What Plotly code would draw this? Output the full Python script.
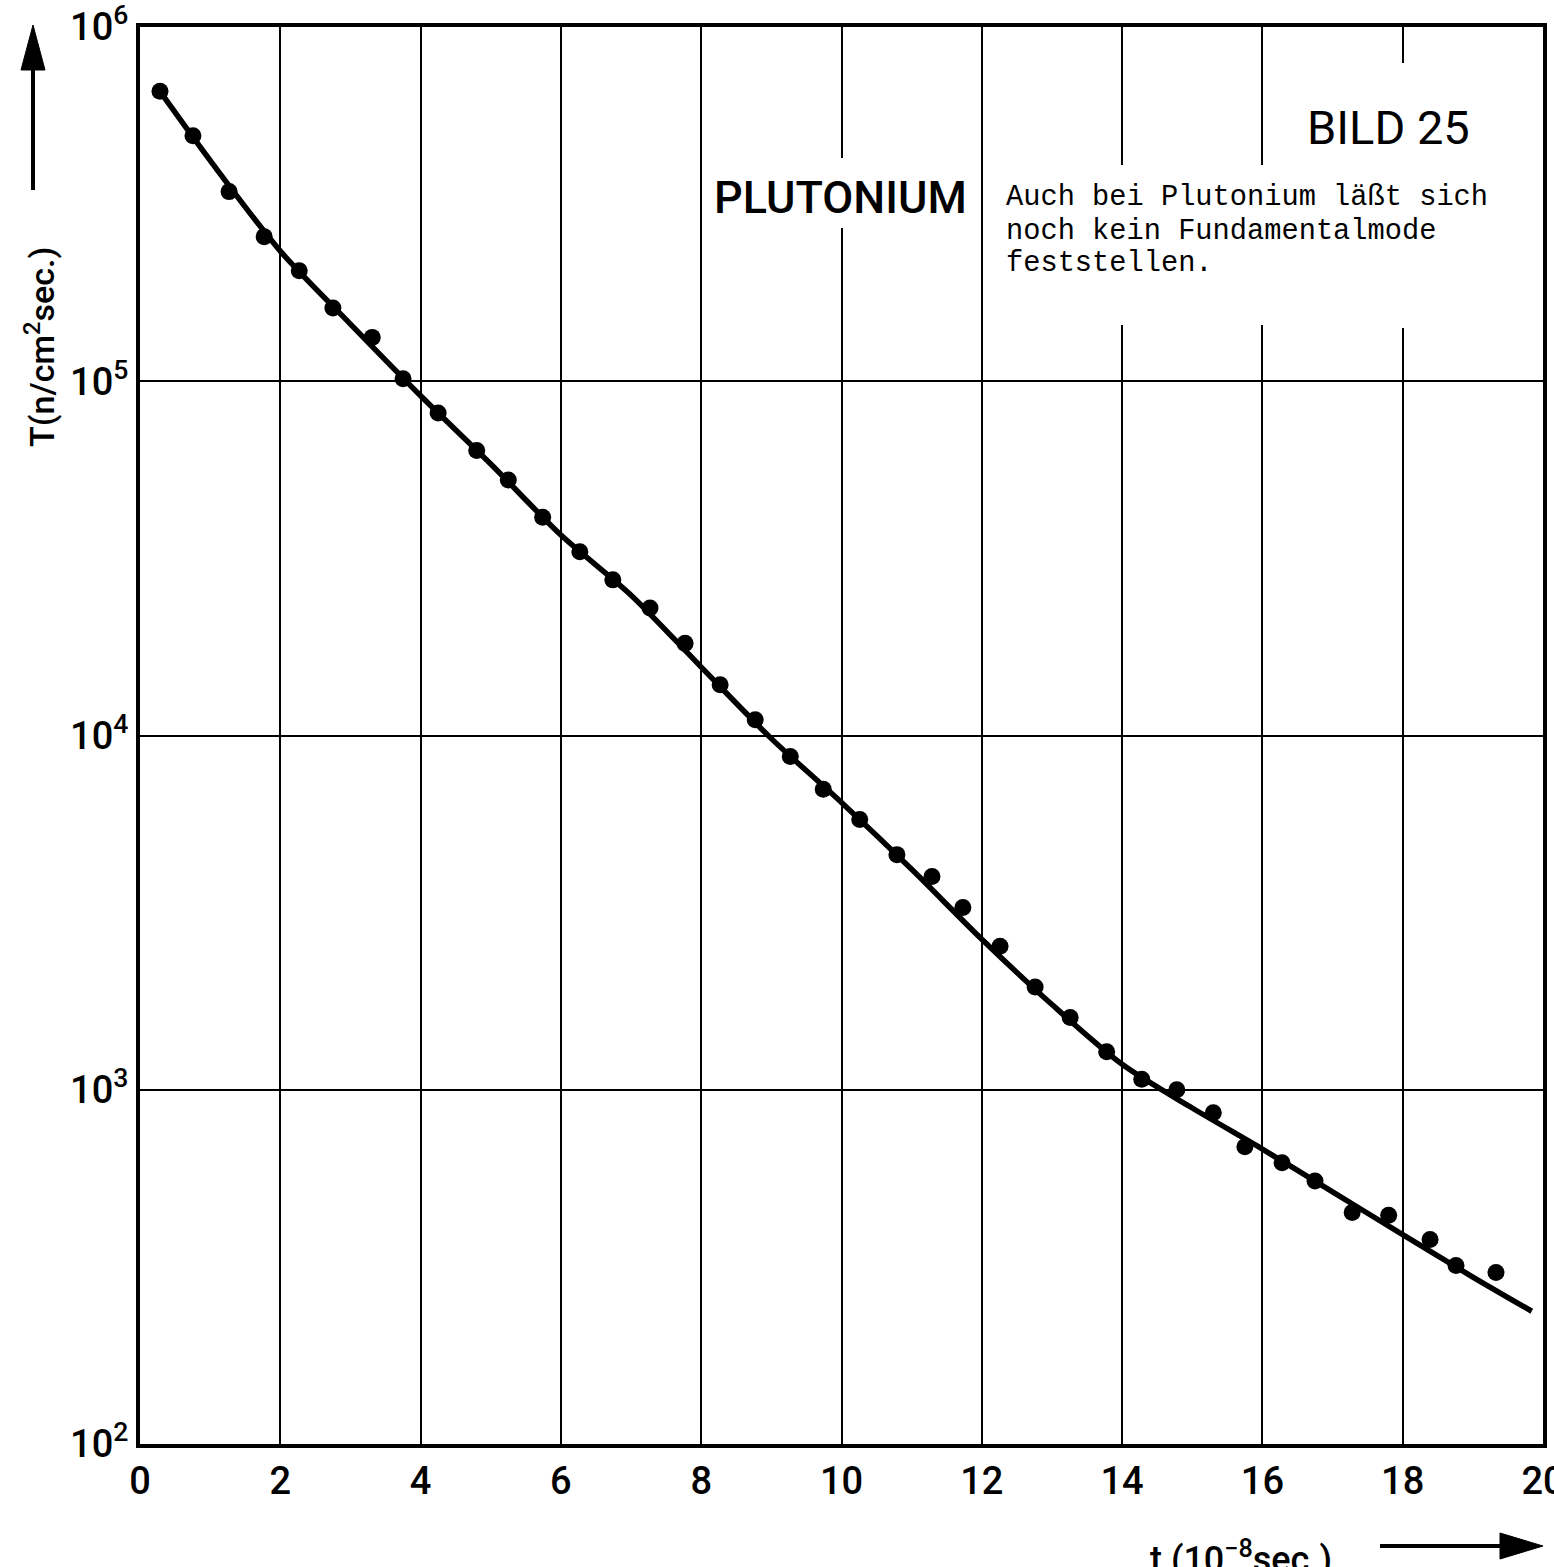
import plotly.graph_objects as go

# ---------------- data ----------------
t_points = [0.285, 0.755, 1.27, 1.77, 2.27, 2.75, 3.31, 3.75, 4.25, 4.80,
            5.25, 5.74, 6.27, 6.74, 7.27, 7.77, 8.27, 8.77, 9.27, 9.74,
            10.26, 10.79, 11.29, 11.73, 12.26, 12.76, 13.26, 13.78, 14.28, 14.78,
            15.30, 15.75, 16.28, 16.75, 17.28, 17.80, 18.39, 18.76, 19.33]
T_points = [659000, 493000, 343000, 256000, 205000, 161000, 133000, 101600, 81300, 63800,
            52600, 41300, 33000, 27500, 22900, 18200, 13900, 11070, 8730, 7050,
            5790, 4610, 4000, 3270, 2540, 1950, 1600, 1280, 1070, 1000,
            861, 690, 622, 553, 450, 442, 378, 319, 305]

t_curve = [0.28, 1, 2, 3, 4, 5, 6, 7, 8, 9, 10,
           11, 12, 13, 14, 15, 16, 17, 18, 19, 19.84]
T_curve = [660000, 420000, 233000, 145000, 91000, 58400, 36800, 24900, 15600, 9800, 6470,
           4190, 2660, 1740, 1180, 888, 680, 515, 390, 296, 237]

x_tick_vals = [0, 2, 4, 6, 8, 10, 12, 14, 16, 18, 20]
x_tick_text = ["0", "2", "4", "6", "8", "10", "12", "14", "16", "18", "20"]
y_tick_vals = [1e2, 1e3, 1e4, 1e5, 1e6]
y_tick_text = ["10<sup>2</sup>", "10<sup>3</sup>", "10<sup>4</sup>", "10<sup>5</sup>", "10<sup>6</sup>"]

title_main = "PLUTONIUM"
title_fig = "BILD 25"
note_lines = ["Auch bei Plutonium läßt sich", "noch kein Fundamentalmode", "feststellen."]
y_title = "T(n/cm<sup>2</sup>sec.)"
x_title = "t (10<sup>−8</sup>sec.)"

# ---------------- layout helpers ----------------
W, H = 1554, 1567
L, R, T, B = 140, 1543, 27, 1444
SANS = "Roboto, Arial, sans-serif"
MONO = "Liberation Mono, Courier New, monospace"


def px(x):
    return (x - L) / (R - L)


def py(y):
    return (B - y) / (B - T)


fig = go.Figure()
fig.add_trace(go.Scatter(x=t_curve, y=T_curve, mode="lines",
                         line=dict(color="black", width=5.5, shape="spline", smoothing=0.8),
                         hoverinfo="skip"))
fig.add_trace(go.Scatter(x=t_points, y=T_points, mode="markers",
                         marker=dict(color="black", size=17)))

fig.update_layout(
    width=W, height=H,
    margin=dict(l=L, r=W - R, t=T, b=H - B, pad=0),
    paper_bgcolor="white", plot_bgcolor="white",
    showlegend=False,
    xaxis=dict(range=[0, 20], tickmode="array", tickvals=x_tick_vals, ticktext=x_tick_text,
               showgrid=True, gridcolor="black", gridwidth=2,
               showline=True, linecolor="black", linewidth=4, mirror=True,
               ticks="", zeroline=False, ticklabelstandoff=0, ticklabeloverflow="allow",
               automargin=False,
               tickfont=dict(family=SANS, size=38, color="black", weight=500)),
    yaxis=dict(type="log", range=[2, 6], tickmode="array", tickvals=y_tick_vals, ticktext=y_tick_text,
               showgrid=True, gridcolor="black", gridwidth=2,
               showline=True, linecolor="black", linewidth=4, mirror=True,
               ticks="", zeroline=False, ticklabelstandoff=0, ticklabeloverflow="allow",
               automargin=False,
               tickfont=dict(family=SANS, size=38, color="black", weight=500)),
)

# gaps in grid lines around the texts
gaps = [(830, 856, 158, 228), (1110, 1280, 165, 325), (1390, 1420, 63, 328)]
for x0, x1, y0, y1 in gaps:
    fig.add_shape(type="rect", xref="paper", yref="paper",
                  x0=px(x0), x1=px(x1), y0=py(y1), y1=py(y0),
                  fillcolor="white", line=dict(width=0), layer="above")

# arrows
fig.add_shape(type="line", xref="paper", yref="paper",
              x0=px(33), x1=px(33), y0=py(190), y1=py(65),
              line=dict(color="black", width=4))
fig.add_shape(type="path", xref="paper", yref="paper",
              path=f"M {px(21)},{py(70)} L {px(45)},{py(70)} L {px(33)},{py(25)} Z",
              fillcolor="black", line=dict(color="black", width=1))
fig.add_shape(type="line", xref="paper", yref="paper",
              x0=px(1380), x1=px(1505), y0=py(1546), y1=py(1546),
              line=dict(color="black", width=4))
fig.add_shape(type="path", xref="paper", yref="paper",
              path=f"M {px(1500)},{py(1533)} L {px(1500)},{py(1559)} L {px(1543)},{py(1546)} Z",
              fillcolor="black", line=dict(color="black", width=1))

# texts
fig.add_annotation(text=title_main, xref="paper", yref="paper", x=px(840), y=py(197),
                   showarrow=False, xanchor="center", yanchor="middle",
                   font=dict(family=SANS, size=45, color="black", weight=500))
fig.add_annotation(text=title_fig, xref="paper", yref="paper", x=px(1388), y=py(127),
                   showarrow=False, xanchor="center", yanchor="middle",
                   font=dict(family=SANS, size=47, color="black"))
for i, line in enumerate(note_lines):
    fig.add_annotation(text=line, xref="paper", yref="paper", x=px(1004), y=py(198 + 33 * i),
                       showarrow=False, xanchor="left", yanchor="middle",
                       font=dict(family=MONO, size=28.7, color="black"))
fig.add_annotation(text=y_title, xref="paper", yref="paper", x=px(40), y=py(347),
                   showarrow=False, xanchor="center", yanchor="middle", textangle=-90,
                   font=dict(family=SANS, size=34, color="black", weight=500))
fig.add_annotation(text=x_title, xref="paper", yref="paper", x=px(1148), y=py(1557),
                   showarrow=False, xanchor="left", yanchor="middle",
                   font=dict(family=SANS, size=36, color="black", weight=500))

fig.write_html("out.html")
